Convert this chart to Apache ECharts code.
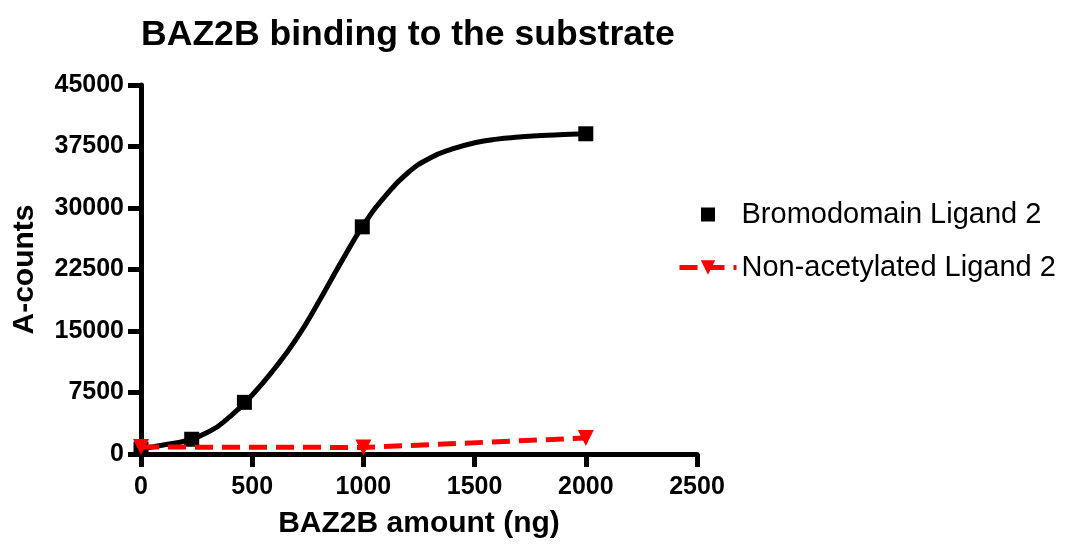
<!DOCTYPE html>
<html><head><meta charset="utf-8">
<script src="https://cdn.jsdelivr.net/npm/echarts@6/dist/echarts.min.js"></script>
<style>html,body{margin:0;padding:0;background:#fff}#c{width:1073px;height:544px}</style>
</head><body><div id="c"></div>
<script>
// Measured data points (BAZ2B amount in ng, A-counts)
const bromoX = [0, 228, 465, 995, 2000];
const bromoY = [600, 1800, 6300, 27700, 39050];
// Fitted curve
const fitX = [0, 100, 200, 300, 400, 500, 600, 700, 800, 900, 1000, 1100, 1200, 1300, 1400, 1500, 1600, 1700, 1800, 1900, 2000];
const fitY = [600, 1100, 1600, 2650, 4550, 7200, 10400, 14100, 18600, 23400, 27900, 31500, 34300, 36100, 37200, 37950, 38400, 38650, 38850, 38950, 39050];
// Non-acetylated Ligand 2
const nonAcX = [0, 1000, 2000];
const nonAcY = [850, 800, 1950];
const xTicks = [0, 500, 1000, 1500, 2000, 2500];
const yTicks = [0, 7500, 15000, 22500, 30000, 37500, 45000];

const F = 'Liberation Sans, Arial, Helvetica, sans-serif';
const chart = echarts.init(document.getElementById('c'), null, {renderer: 'canvas'});
const zip = (a, b) => a.map((v, i) => [v, b[i]]);
chart.setOption({
  animation: false,
  backgroundColor: '#fff',
  title: {
    text: 'BAZ2B binding to the substrate',
    left: 136, top: 12,
    textStyle: {fontFamily: F, fontWeight: 'bold', fontSize: 35.6, color: '#000'}
  },
  grid: {left: 141, right: 376, top: 85, bottom: 87.5, containLabel: false},
  legend: {
    orient: 'vertical', left: 677, top: 200, padding: 0,
    itemWidth: 57, itemHeight: 18, itemGap: 24,
    textStyle: {fontFamily: F, fontSize: 29, color: '#000'},
    lineStyle: {width: 5},
    data: [
      {name: 'Bromodomain Ligand 2', icon: 'path://M-1,-1M0,0L7,0L7,7L0,7ZM8,8'},
      {name: 'Non-acetylated Ligand 2'}
    ]
  },
  xAxis: {
    type: 'value', min: 0, max: 2500, interval: 500,
    name: 'BAZ2B amount (ng)', nameLocation: 'middle', nameGap: 55,
    nameTextStyle: {fontFamily: F, fontWeight: 'bold', fontSize: 30, color: '#000'},
    axisLine: {show: true, lineStyle: {color: '#000', width: 5}},
    axisTick: {show: true, length: 13, lineStyle: {color: '#000', width: 5}},
    axisLabel: {fontFamily: F, fontWeight: 'bold', fontSize: 25, color: '#000', margin: 21,
      formatter: v => String(v)},
    splitLine: {show: false}
  },
  yAxis: {
    type: 'value', min: 0, max: 45000, interval: 7500,
    name: 'A-counts', nameLocation: 'middle', nameGap: 101, nameRotate: 90,
    nameTextStyle: {fontFamily: F, fontWeight: 'bold', fontSize: 30, color: '#000'},
    axisLine: {show: true, lineStyle: {color: '#000', width: 5}},
    axisTick: {show: true, length: 13, lineStyle: {color: '#000', width: 5}},
    axisLabel: {fontFamily: F, fontWeight: 'bold', fontSize: 25, color: '#000', margin: 17,
      formatter: v => String(v)},
    splitLine: {show: false}
  },
  series: [
    {
      name: 'fit', type: 'line', data: zip(fitX, fitY), smooth: 0.5,
      showSymbol: false, symbol: 'none',
      lineStyle: {color: '#000', width: 5}, z: 2
    },
    {
      name: 'Bromodomain Ligand 2', type: 'scatter', data: zip(bromoX, bromoY),
      symbol: 'rect', symbolSize: 15, itemStyle: {color: '#000', opacity: 1}, z: 3
    },
    {
      name: 'Non-acetylated Ligand 2', type: 'line', data: zip(nonAcX, nonAcY),
      symbol: 'triangle', symbolRotate: 180, symbolSize: 16, showSymbol: true,
      itemStyle: {color: '#ff0000'},
      lineStyle: {color: '#ff0000', width: 5, type: [18, 9]}, z: 4
    }
  ]
});
</script></body></html>
